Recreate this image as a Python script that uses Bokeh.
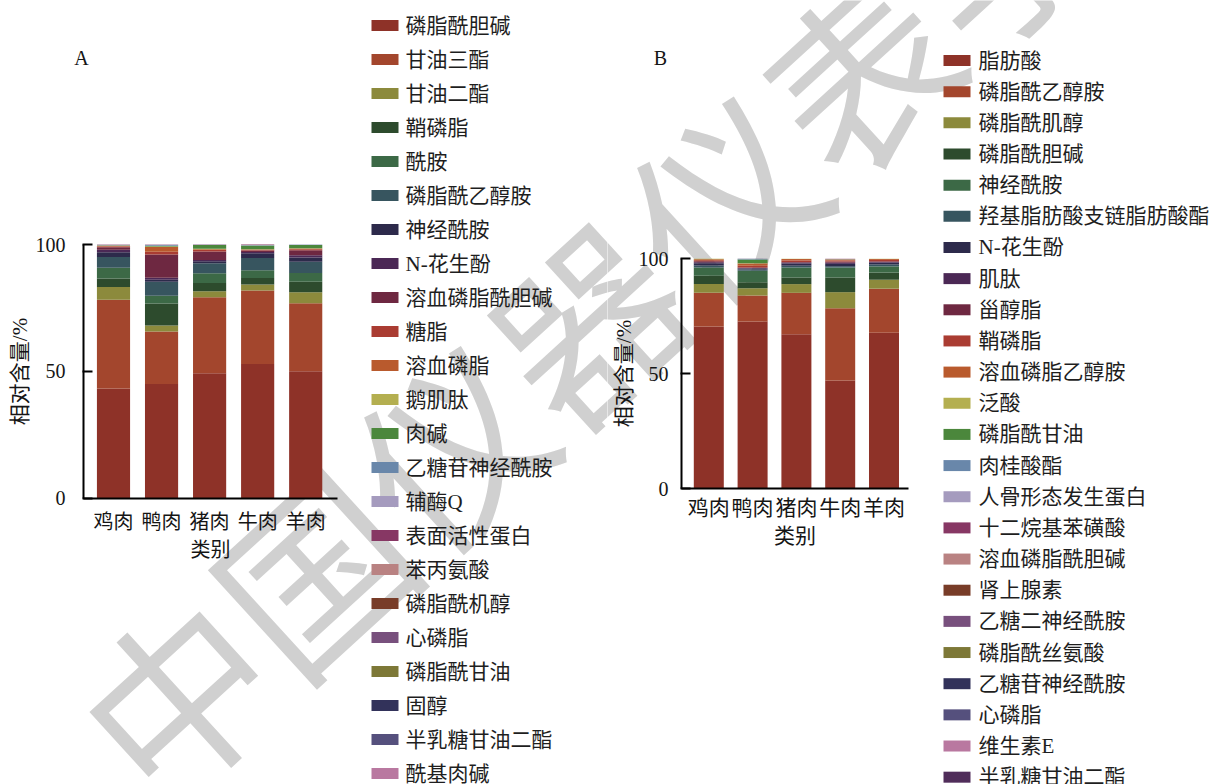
from bokeh.plotting import figure
from bokeh.layouts import row
from bokeh.models import ColumnDataSource, Range1d, Label, FixedTicker
from bokeh.core.properties import value
from bokeh.embed import file_html
from bokeh.resources import INLINE

# ---- data -----------------------------------------------------------------
MEATS = ["鸡肉", "鸭肉", "猪肉", "牛肉", "羊肉"]

LIPIDS_A = ["磷脂酰胆碱", "甘油三酯", "甘油二酯", "鞘磷脂", "酰胺", "磷脂酰乙醇胺",
            "神经酰胺", "N-花生酚", "溶血磷脂酰胆碱", "糖脂", "溶血磷脂", "鹅肌肽",
            "肉碱", "乙糖苷神经酰胺", "辅酶Q", "表面活性蛋白", "苯丙氨酸", "磷脂酰机醇",
            "心磷脂", "磷脂酰甘油", "固醇", "半乳糖甘油二酯", "酰基肉碱"]

# relative content (%) of each class, in LIPIDS_A order
A_CHICKEN = [43.2, 35.0, 5.0, 3.4, 4.2, 4.3, 1.8, 1.0, 1.0, 0.3, 0.3, 0.1,
             0.1, 0.1, 0.1, 0.1, 0.0, 0.0, 0.0, 0.0, 0.0, 0.0, 0.0]
A_DUCK = [45.0, 20.7, 2.3, 8.7, 3.1, 5.5, 0.8, 0.8, 9.2, 1.0, 1.9, 0.2,
          0.3, 0.3, 0.1, 0.1, 0.0, 0.0, 0.0, 0.0, 0.0, 0.0, 0.0]
A_PORK = [49.2, 30.0, 2.4, 3.2, 3.9, 3.9, 0.8, 0.5, 3.3, 0.6, 0.3, 0.2,
          1.5, 0.1, 0.0, 0.1, 0.0, 0.0, 0.0, 0.0, 0.0, 0.0, 0.0]
A_BEEF = [52.9, 29.0, 2.3, 2.6, 3.0, 4.9, 1.8, 0.5, 0.6, 0.2, 0.2, 0.1,
          1.5, 0.1, 0.1, 0.2, 0.0, 0.0, 0.0, 0.0, 0.0, 0.0, 0.0]
A_MUTTON = [50.0, 26.8, 4.4, 4.1, 3.5, 4.4, 1.7, 0.9, 1.9, 0.4, 0.3, 0.1,
            1.3, 0.1, 0.1, 0.0, 0.0, 0.0, 0.0, 0.0, 0.0, 0.0, 0.0]

LIPIDS_B = ["脂肪酸", "磷脂酰乙醇胺", "磷脂酰肌醇", "磷脂酰胆碱", "神经酰胺",
            "羟基脂肪酸支链脂肪酸酯", "N-花生酚", "肌肽", "甾醇脂", "鞘磷脂",
            "溶血磷脂乙醇胺", "泛酸", "磷脂酰甘油", "肉桂酸酯", "人骨形态发生蛋白",
            "十二烷基苯磺酸", "溶血磷脂酰胆碱", "肾上腺素", "乙糖二神经酰胺",
            "磷脂酰丝氨酸", "乙糖苷神经酰胺", "心磷脂", "维生素E", "半乳糖甘油二酯"]

B_CHICKEN = [70.6, 14.6, 3.8, 3.6, 3.6, 0.9, 1.0, 0.4, 0.4, 0.5, 0.4, 0.2,
             0.0, 0.0, 0.0, 0.0, 0.0, 0.0, 0.0, 0.0, 0.0, 0.0, 0.0, 0.0]
B_DUCK = [72.7, 11.3, 3.2, 2.6, 5.0, 0.5, 0.5, 0.2, 0.2, 0.8, 1.0, 0.1,
          1.6, 0.2, 0.0, 0.0, 0.0, 0.0, 0.0, 0.0, 0.0, 0.1, 0.0, 0.0]
B_PORK = [67.2, 18.0, 3.8, 2.9, 4.3, 0.8, 1.0, 0.3, 0.3, 0.7, 0.6, 0.1,
          0.0, 0.0, 0.0, 0.0, 0.0, 0.0, 0.0, 0.0, 0.0, 0.0, 0.0, 0.0]
B_BEEF = [47.1, 31.4, 7.0, 6.4, 4.3, 0.6, 1.0, 0.5, 0.5, 0.5, 0.3, 0.1,
          0.1, 0.0, 0.0, 0.2, 0.0, 0.0, 0.0, 0.0, 0.0, 0.0, 0.0, 0.0]
B_MUTTON = [67.8, 19.2, 3.9, 3.1, 2.7, 0.8, 0.8, 0.3, 0.3, 0.6, 0.4, 0.1,
            0.0, 0.0, 0.0, 0.0, 0.0, 0.0, 0.0, 0.0, 0.0, 0.0, 0.0, 0.0]

Y_TICKS = [0, 50, 100]
Y_LABEL = "相对含量/%"
X_LABEL = "类别"

PALETTE = ["#8e3228", "#a3462d", "#8c8a3c", "#2d4b2d", "#3c6946", "#37555f",
           "#2d2a4b", "#4b2855", "#6e2841", "#aa3c32", "#b95a2d", "#b4af50",
           "#4b873c", "#6987aa", "#a59bbe", "#873764", "#b98282", "#783c28",
           "#78507d", "#7d7837", "#32325a", "#55507d", "#b978a0", "#502d5a"]

# ---- styling ----------------------------------------------------------------
H = 784
CJK = "'Noto Sans CJK SC'"
MIXED = "'Liberation Serif', 'Noto Sans CJK SC'"
SERIF = "'Liberation Serif'"
INK = "#151515"

WATERMARK = "中国仪器仪表学会"
WM_CENTER = (650, 255)     # page pixels, measured from the top-left corner
WM_ANGLE = 0.74


def build_panel(names, bars, width, offset, axis_left, axis_right, y0_px, y100_px,
                first_center, step, bar_w, letter, letter_xy, swatch_x, text_x,
                legend_top, legend_pitch, tick_px, tick_standoff, xlab_standoff,
                y_standoff, ylab_standoff):
    """One panel: stacked bars + axes + hand-laid legend on a single canvas.

    Pixel arguments are in this canvas' own pixels (origin top-left); the data
    ranges are derived so that the plot frame fills the canvas and the axes
    sit at the requested pixel positions.
    """
    n = len(names)
    keys = [f"c{i}" for i in range(n)]
    data = {"pos": list(range(len(MEATS)))}
    for i, k in enumerate(keys):
        data[k] = [bar[i] for bar in bars]
    src = ColumnDataSource(data)

    x_start = -first_center / step
    x_end = x_start + width / step
    k = (y0_px - y100_px) / 100.0
    y_start = -(H - y0_px) / k
    y_end = y_start + H / k

    p = figure(width=width, height=H, x_range=Range1d(x_start, x_end),
               y_range=Range1d(y_start, y_end), min_border=0, title=None,
               toolbar_location=None, output_backend="svg")
    # pixel-space ranges for the legend
    p.extra_x_ranges = {"px": Range1d(0, width)}
    p.extra_y_ranges = {"px": Range1d(H, 0)}

    p.vbar_stack(keys, x="pos", width=bar_w, fill_color=PALETTE[:n],
                 line_color=None, source=src)

    p.xgrid.visible = False
    p.ygrid.visible = False
    p.outline_line_color = None
    p.background_fill_color = "white"
    p.border_fill_color = "white"

    x_axis_at = (axis_left - first_center) / step
    x_axis_end = (axis_right - first_center) / step

    xa = p.xaxis[0]
    xa.fixed_location = 0
    xa.bounds = (x_axis_at, x_axis_end)
    xa.ticker = FixedTicker(ticks=list(range(len(MEATS))))
    xa.major_label_overrides = {i: m for i, m in enumerate(MEATS)}
    xa.axis_line_width = 2
    xa.axis_line_color = "black"
    xa.major_tick_line_color = None
    xa.minor_tick_line_color = None
    xa.major_label_text_font = CJK
    xa.major_label_text_font_size = tick_px
    xa.major_label_text_color = INK
    xa.major_label_standoff = tick_standoff
    xa.axis_label = X_LABEL
    xa.axis_label_text_font = CJK
    xa.axis_label_text_font_size = tick_px
    xa.axis_label_text_font_style = "normal"
    xa.axis_label_text_color = INK
    xa.axis_label_standoff = xlab_standoff

    ya = p.yaxis[0]
    ya.fixed_location = x_axis_at
    ya.bounds = (0, 100)
    ya.ticker = FixedTicker(ticks=Y_TICKS)
    ya.axis_line_width = 2
    ya.axis_line_color = "black"
    ya.major_tick_line_width = 2
    ya.major_tick_line_color = "black"
    ya.major_tick_in = 9
    ya.major_tick_out = 1
    ya.minor_tick_line_color = None
    ya.major_label_text_font = SERIF
    ya.major_label_text_font_size = "20px"
    ya.major_label_text_color = INK
    ya.major_label_standoff = y_standoff
    ya.axis_label = Y_LABEL
    ya.axis_label_text_font = MIXED
    ya.axis_label_text_font_size = "21px"
    ya.axis_label_text_font_style = "normal"
    ya.axis_label_text_color = INK
    ya.axis_label_standoff = ylab_standoff

    # legend: one swatch + name per class, bottom-of-stack first
    ys = [legend_top + legend_pitch * i for i in range(n)]
    p.rect(x=swatch_x, y=ys, width=27, height=11, fill_color=PALETTE[:n],
           line_color=None, x_range_name="px", y_range_name="px")
    p.text(x=text_x, y=ys, text=names, text_font=value(MIXED),
           text_font_size=value("21px"), text_baseline="middle", text_align="left",
           text_color="#1e1e1e", x_range_name="px", y_range_name="px")

    # panel letter
    p.add_layout(Label(x=letter_xy[0], y=H - letter_xy[1], x_units="screen",
                       y_units="screen", text=letter, text_align="center",
                       text_baseline="middle", text_font=SERIF,
                       text_font_size="20px", text_color=INK))

    # faint diagonal watermark behind everything
    p.add_layout(Label(x=WM_CENTER[0] - offset, y=H - WM_CENTER[1],
                       x_units="screen", y_units="screen", text=WATERMARK,
                       angle=WM_ANGLE, text_align="center", text_baseline="middle",
                       text_font=CJK, text_font_size="185px",
                       text_color="#d0d0d0", level="underlay"))
    return p


panel_a = build_panel(LIPIDS_A, [A_CHICKEN, A_DUCK, A_PORK, A_BEEF, A_MUTTON],
                      width=607, offset=0, axis_left=83, axis_right=337,
                      y0_px=497.5, y100_px=244, first_center=113, step=48.05,
                      bar_w=0.69, letter="A", letter_xy=(81, 57),
                      swatch_x=384.5, text_x=405, legend_top=25, legend_pitch=34.0,
                      tick_px="20px", tick_standoff=2, xlab_standoff=-5,
                      y_standoff=17, ylab_standoff=1)

panel_b = build_panel(LIPIDS_B, [B_CHICKEN, B_DUCK, B_PORK, B_BEEF, B_MUTTON],
                      width=608, offset=607, axis_left=74, axis_right=301,
                      y0_px=488.3, y100_px=258.3, first_center=101.3, step=43.8,
                      bar_w=0.685, letter="B", letter_xy=(53, 57),
                      swatch_x=349.5, text_x=371, legend_top=60, legend_pitch=31.16,
                      tick_px="21px", tick_standoff=-4, xlab_standoff=-5,
                      y_standoff=12, ylab_standoff=0)

layout = row(panel_a, panel_b, spacing=0)
open("out.html", "w").write(file_html(layout, INLINE))
